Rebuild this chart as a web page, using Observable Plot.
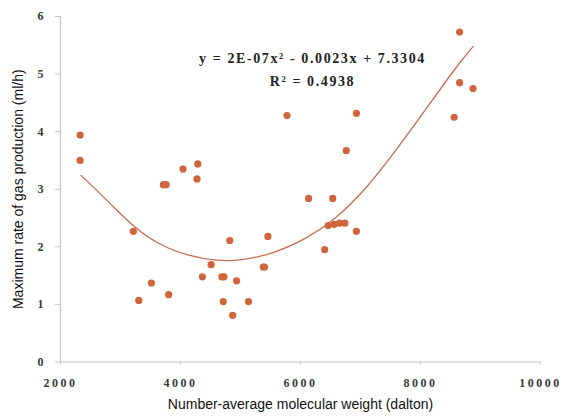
<!DOCTYPE html>
<html>
<head>
<meta charset="utf-8">
<script src="https://cdn.jsdelivr.net/npm/d3@7"></script>
<script src="https://cdn.jsdelivr.net/npm/@observablehq/plot@0.6"></script>
<style>
  html, body { margin: 0; padding: 0; background: #fff; }
  #chart svg g[aria-label="x-axis tick label"] text { letter-spacing: 2.5px; }
  #chart svg g[aria-label="text"].equation text { letter-spacing: 1.6px; }
</style>
</head>
<body>
<div id="chart"></div>
<script>
// Scatter points
const molWeight = [2327, 2327, 3215, 3305, 3515, 3715, 3760, 3802, 4042, 4288, 4275, 4365, 4510, 4690, 4725, 4713, 4822, 4870, 4935, 5133, 5380, 5400, 5457, 5775, 6135, 6403, 6537, 6460, 6560, 6650, 6740, 6932, 6763, 6932, 8562, 8652, 8652, 8875];
const gasRate   = [3.94, 3.50, 2.27, 1.07, 1.37, 3.08, 3.08, 1.17, 3.35, 3.44, 3.18, 1.48, 1.69, 1.48, 1.48, 1.05, 2.11, 0.81, 1.41, 1.05, 1.65, 1.65, 2.18, 4.28, 2.84, 1.95, 2.84, 2.37, 2.39, 2.41, 2.41, 2.27, 3.67, 4.32, 4.25, 5.73, 4.85, 4.75];
// Polynomial trendline as drawn in the reference
const trendX = [2345, 2833, 3222, 3667, 4112, 4612, 5000, 5555, 6112, 6555, 7112, 7667, 8222, 8612, 8878];
const trendY = [3.24, 2.75, 2.34, 2.02, 1.85, 1.75, 1.76, 1.88, 2.15, 2.45, 3.02, 3.78, 4.58, 5.15, 5.48];
const xTicks = [2000, 4000, 6000, 8000, 10000];
const yTicks = [0, 1, 2, 3, 4, 5, 6];
const equationLines = ["y = 2E-07x\u00B2 - 0.0023x + 7.3304", "R\u00B2 = 0.4938"];
const equationX = [6200, 6200];
const equationY = [5.27, 4.87];
const xTitle = "Number-average molecular weight (dalton)";
const yTitle = "Maximum rate of gas production (ml/h)";

const points = molWeight.map((x, i) => ({x, y: gasRate[i]}));
const trend = trendX.map((x, i) => ({x, y: trendY[i]}));

const serif = "'Liberation Serif', 'DejaVu Serif', serif";
const sans = "'Liberation Sans', Arial, sans-serif";
const dotColor = "#d0643a";

const chart = Plot.plot({
  width: 564,
  height: 417,
  marginLeft: 60,
  marginRight: 24,
  marginTop: 16,
  marginBottom: 55.5,
  style: {background: "#fff", overflow: "visible"},
  x: {domain: [2000, 10000]},
  y: {domain: [0, 6]},
  marks: [
    Plot.ruleY([0], {stroke: "#c4c4c4", strokeWidth: 1.2}),
    Plot.ruleX([2000], {y1: 0, y2: 6, stroke: "#c4c4c4", strokeWidth: 1.2}),
    Plot.axisX({ticks: xTicks, tickSize: 3, tickPadding: 13, tickFormat: d => String(d), stroke: "#c4c4c4", fill: "#3a3a3a", fontFamily: serif, fontWeight: "bold", fontSize: 12, label: null}),
    Plot.axisY({ticks: yTicks, tickSize: 5, tickPadding: 12, tickFormat: d => String(d), stroke: "#c4c4c4", fill: "#3a3a3a", fontFamily: serif, fontWeight: "bold", fontSize: 12, label: null}),
    Plot.line(trend, {x: "x", y: "y", stroke: "#c96a52", strokeWidth: 1.3, curve: "basis"}),
    Plot.dot(points, {x: "x", y: "y", r: 3.6, fill: dotColor, stroke: "none"}),
    Plot.text(equationLines, {x: (d, i) => equationX[i], y: (d, i) => equationY[i], text: d => d, fontFamily: serif, fontWeight: "bold", fontSize: 14, fill: "#222", className: "equation"}),
    Plot.text([xTitle], {frameAnchor: "bottom", dy: 46.5, text: d => d, fontFamily: sans, fontSize: 14, fill: "#111"}),
    Plot.text([yTitle], {frameAnchor: "left", textAnchor: "middle", dx: -42, rotate: -90, text: d => d, fontFamily: sans, fontSize: 14, fill: "#111"})
  ]
});
document.getElementById("chart").appendChild(chart);
</script>
</body>
</html>
